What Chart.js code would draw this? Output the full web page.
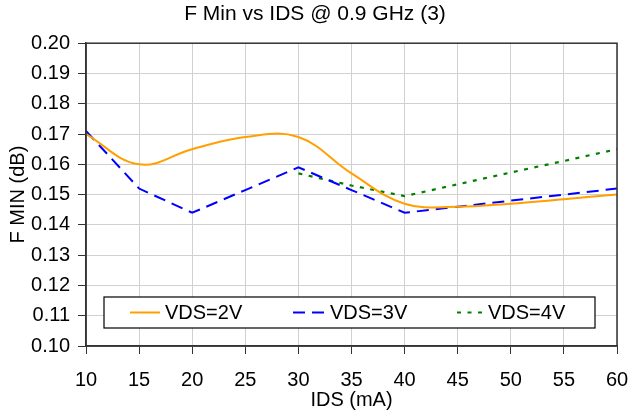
<!DOCTYPE html>
<html>
<head>
<meta charset="utf-8">
<script src="https://cdn.jsdelivr.net/npm/chart.js@4"></script>
<style>
  html, body { margin: 0; padding: 0; background: #fff; }
  #wrap { width: 630px; height: 414px; position: relative; }
</style>
</head>
<body>
<div id="wrap"><canvas id="fminChart"></canvas></div>
<script>
// IDS values (mA) and F MIN readings (dB) per drain voltage
const ids = [10, 15, 20, 25, 30, 35, 40, 45, 50, 55, 60];
const vds2 = [0.170, 0.160, 0.165, 0.169, 0.169, 0.157, 0.147, 0.146, 0.147, 0.1485, 0.150];
const vds3 = [0.171, 0.152, 0.144, 0.1515, 0.159, 0.1515, 0.144, 0.146, 0.148, 0.150, 0.152];
const vds4 = [null, null, null, null, 0.157, 0.153, 0.1495, 0.1534, 0.1573, 0.1611, 0.165];
const seriesNames = ["VDS=2V", "VDS=3V", "VDS=4V"];

const FONT = "'Liberation Sans', Arial, Helvetica, sans-serif";

const toPoints = arr => ids.map((x, i) => ({ x: x, y: arr[i] })).filter(p => p.y !== null);

// frame round the plot area (top and right edges too)
const plotFrame = {
    id: "plotFrame",
    afterDraw(chart) {
        const { ctx, chartArea: a } = chart;
        ctx.save();
        ctx.strokeStyle = "#333";
        ctx.lineWidth = 1.5;
        ctx.strokeRect(a.left, a.top, a.right - a.left, a.bottom - a.top);
        ctx.restore();
    }
};

// legend drawn inside the plot, near the bottom, like the original
const insideLegend = {
    id: "insideLegend",
    afterDatasetsDraw(chart) {
        const { ctx, chartArea: a } = chart;
        const x0 = a.left + 18, y0 = a.bottom - 49, w = 491, h = 31;
        ctx.save();
        ctx.fillStyle = "#fff";
        ctx.fillRect(x0, y0, w, h);
        ctx.strokeStyle = "#000";
        ctx.lineWidth = 1.2;
        ctx.strokeRect(x0, y0, w, h);
        const starts = [26, 189, 353];
        const lens = [30, 32, 26];
        const cy = y0 + h / 2;
        chart.data.datasets.forEach((ds, i) => {
            const sx = x0 + starts[i];
            ctx.beginPath();
            ctx.setLineDash(ds.borderDash || []);
            ctx.strokeStyle = ds.borderColor;
            ctx.lineWidth = ds.borderWidth;
            ctx.moveTo(sx, cy);
            ctx.lineTo(sx + lens[i], cy);
            ctx.stroke();
            ctx.setLineDash([]);
            ctx.fillStyle = "#000";
            ctx.font = "20px " + FONT;
            ctx.textBaseline = "middle";
            ctx.fillText(ds.label, sx + lens[i] + 5, cy + 1);
        });
        ctx.restore();
    }
};

const ctx = document.getElementById("fminChart").getContext("2d");
new Chart(ctx, {
    type: "line",
    data: {
        datasets: [
            {
                label: seriesNames[0],
                data: toPoints(vds2),
                borderColor: "#ffa000",
                borderWidth: 2,
                pointRadius: 0,
                tension: 0.4,
                fill: false
            },
            {
                label: seriesNames[1],
                data: toPoints(vds3),
                borderColor: "#0000ff",
                borderWidth: 2,
                borderDash: [12, 7],
                pointRadius: 0,
                tension: 0,
                fill: false
            },
            {
                label: seriesNames[2],
                data: toPoints(vds4),
                borderColor: "#008000",
                borderWidth: 2.2,
                borderDash: [4, 6.5],
                pointRadius: 0,
                tension: 0,
                fill: false
            }
        ]
    },
    options: {
        responsive: true,
        maintainAspectRatio: false,
        animation: false,
        layout: { padding: 0 },
        plugins: {
            legend: { display: false },
            tooltip: { enabled: false },
            title: {
                display: true,
                text: "F Min vs IDS @ 0.9 GHz (3)",
                color: "#000",
                font: { family: FONT, size: 21, weight: "normal" },
                padding: { top: 2, bottom: 16 }
            }
        },
        scales: {
            x: {
                type: "linear",
                min: 10,
                max: 60,
                afterFit: s => { s.height = 68; s.paddingRight = 13; },
                ticks: {
                    stepSize: 5,
                    color: "#000",
                    padding: 14,
                    font: { family: FONT, size: 20 }
                },
                grid: { color: "#d0d0d0", tickColor: "#333", tickLength: 8 },
                border: { color: "#333", width: 1.5 },
                title: {
                    display: true,
                    text: "IDS (mA)",
                    color: "#000",
                    font: { family: FONT, size: 20 },
                    padding: { top: 2, bottom: 2 }
                }
            },
            y: {
                min: 0.10,
                max: 0.20,
                afterFit: s => { s.width = 86; },
                ticks: {
                    stepSize: 0.01,
                    color: "#000",
                    padding: 8,
                    font: { family: FONT, size: 20 },
                    callback: v => v.toFixed(2)
                },
                grid: { color: "#d0d0d0", tickColor: "#333", tickLength: 8 },
                border: { color: "#333", width: 1.5 },
                title: {
                    display: true,
                    text: "F MIN (dB)",
                    color: "#000",
                    font: { family: FONT, size: 20 },
                    padding: { top: 6, bottom: 6 }
                }
            }
        }
    },
    plugins: [insideLegend, plotFrame]
});
</script>
</body>
</html>
